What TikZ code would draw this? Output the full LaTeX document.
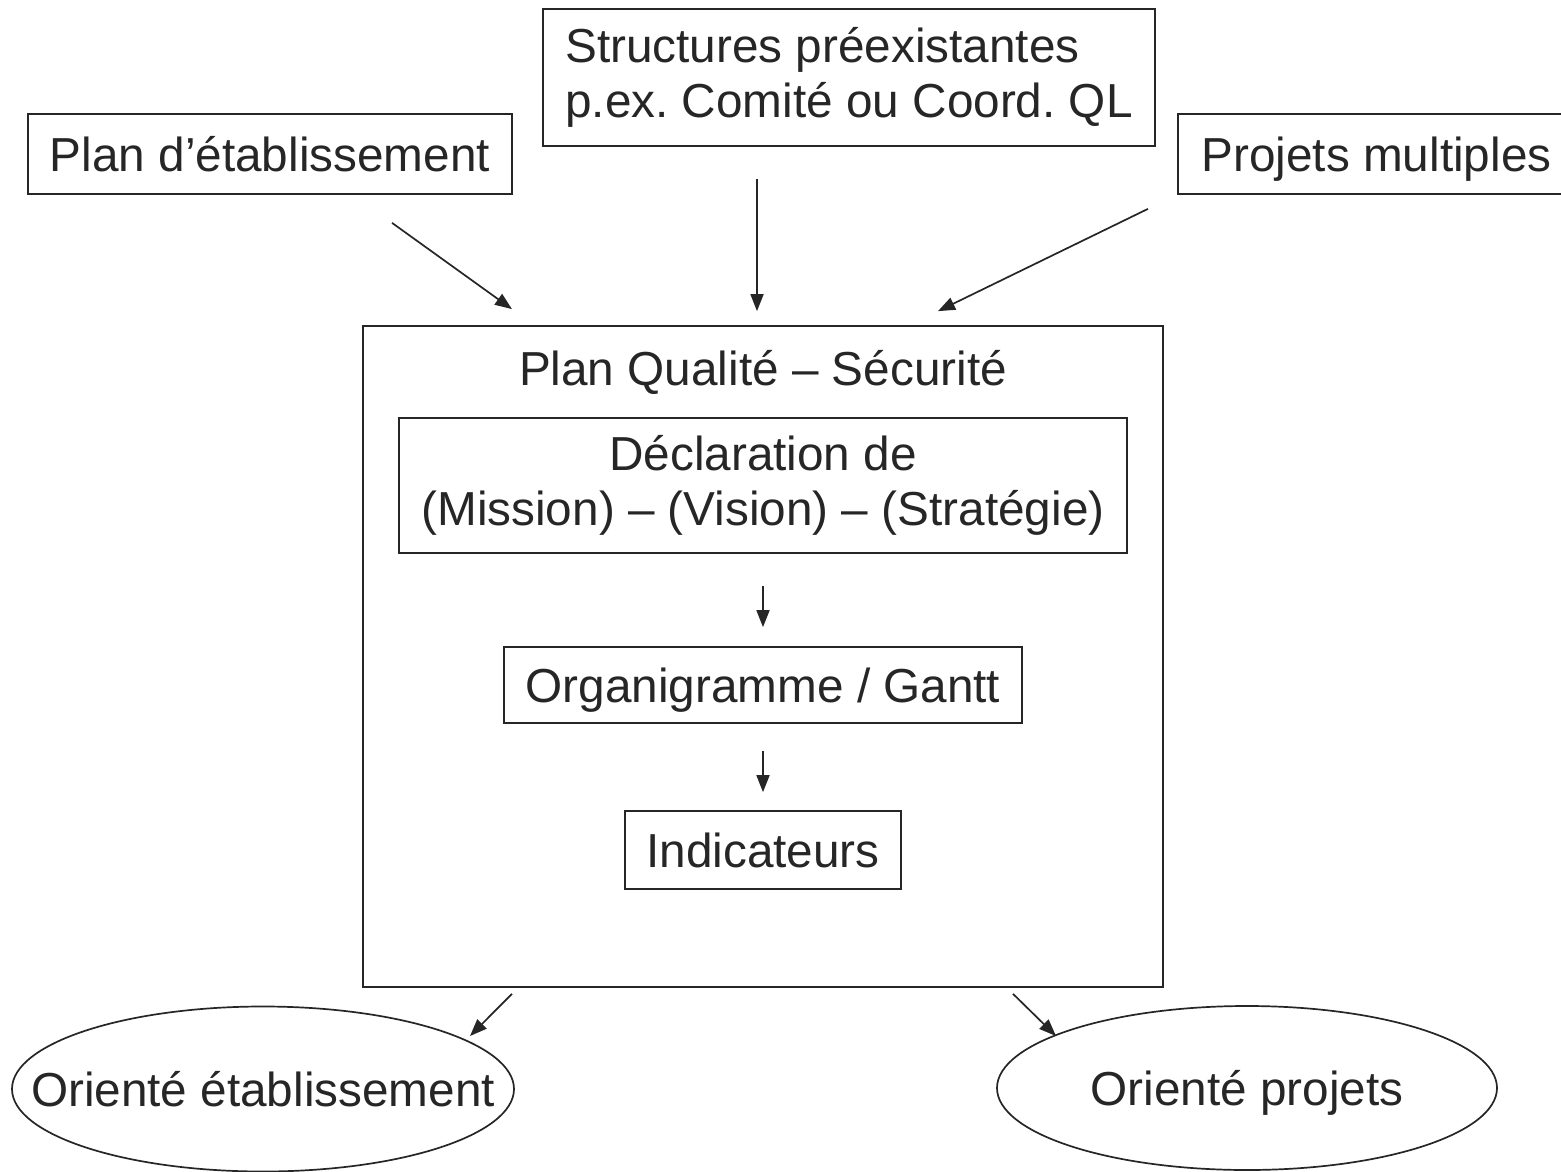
\documentclass[tikz,border=0pt]{standalone}
\usepackage{fontspec}
\setmainfont{Liberation Sans}
\usetikzlibrary{arrows.meta,shapes.geometric}
\frenchspacing
\begin{document}
\begin{tikzpicture}[x=1pt,y=-1pt,
  every node/.style={font=\fontsize{47.7pt}{55pt}\selectfont, text=black!85},
  one/.style={text height=35pt, text depth=0pt},
  box/.style={draw=black!85, line width=1.7pt, inner sep=0pt, align=center},
  oval/.style={draw=black!85, line width=1.7pt, ellipse, inner sep=0pt},
  arr/.style={draw=black!85, line width=1.7pt, -{Triangle[length=17pt,width=13pt]}}]
\useasboundingbox (0,0) rectangle (1561,1172);
\fill[white] (0,0) rectangle (1561,1172);
% top boxes
\node[box, one, minimum width=484pt, minimum height=80pt] (pe) at (270,154) {Plan d’établissement};
\node[box, minimum width=612pt, minimum height=137pt, align=left] (st) at (849,77.5) {Structures préexistantes\\p.ex. Comité ou Coord. QL};
\node[box, one, minimum width=397pt, minimum height=80pt] (pm) at (1376.5,154) {Projets multiples};
% main frame
\node[box, minimum width=800pt, minimum height=661pt] (qs) at (763,656.5) {};
\node[one] (qt) at (763,368) {Plan Qualité – Sécurité};
\node[box, minimum width=728pt, minimum height=135pt] (dc) at (763,485.5) {Déclaration de\\(Mission) – (Vision) – (Stratégie)};
\node[box, one, minimum width=518pt, minimum height=76pt] (og) at (763,685) {Organigramme / Gantt};
\node[box, one, minimum width=276pt, minimum height=78pt] (ind) at (763,850) {Indicateurs};
% ellipses
\node[oval, minimum width=502pt, minimum height=165pt, label={[one]center:Orienté établissement}] (e1) at (263,1089) {};
\node[oval, minimum width=500pt, minimum height=164pt, label={[one]center:Orienté projets}] (e2) at (1247,1088) {};
% connectors
\draw[arr] ([xshift=122pt,yshift=-28pt]pe.south) -- ([xshift=-251pt,yshift=16pt]qs.north);
\draw[arr] ([xshift=-92pt,yshift=-32pt]st.south) -- ([xshift=-6pt,yshift=14pt]qs.north);
\draw[arr] ([xshift=-228.5pt,yshift=-14pt]pm.south) -- ([xshift=175pt,yshift=14pt]qs.north);
\draw[arr] ([yshift=-32pt]dc.south) -- ([yshift=19pt]og.north);
\draw[arr] ([yshift=-27pt]og.south) -- ([yshift=18pt]ind.north);
\draw[arr] ([xshift=-251pt,yshift=-6pt]qs.south) -- ([xshift=207pt,yshift=53pt]e1.center);
\draw[arr] ([xshift=250pt,yshift=-6pt]qs.south) -- ([xshift=-191pt,yshift=52pt]e2.center);
\end{tikzpicture}
\end{document}
